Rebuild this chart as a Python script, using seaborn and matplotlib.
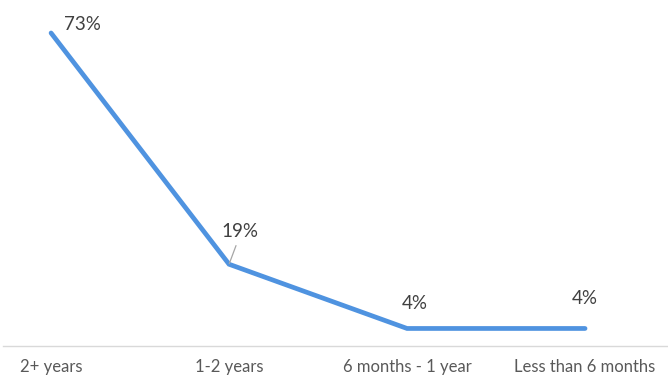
import matplotlib
matplotlib.use("Agg")
import matplotlib.pyplot as plt
import seaborn as sns
import pandas as pd

categories = ["2+ years", "1-2 years", "6 months - 1 year", "Less than 6 months"]
values = [73, 19, 4, 4]
labels = ["73%", "19%", "4%", "4%"]

# label offsets in pixels (dx, dy) from each point
label_offsets = [(31, 8), (11, 33), (8, 25), (0, 30)]

sns.set_style("white")
plt.rcParams["font.family"] = ["Lato", "DejaVu Sans"]

df = pd.DataFrame({"category": categories, "value": values})

dpi = 100
fig = plt.figure(figsize=(668 / dpi, 381 / dpi), dpi=dpi)
ax = fig.add_axes([3 / 668, 35.4 / 381, 665 / 668, 342.6 / 381])

line_color = "#4F93E0"
sns.lineplot(data=df, x="category", y="value", color=line_color, linewidth=3.4,
             sort=False, ax=ax, solid_capstyle="round", solid_joinstyle="miter")

ax.set_ylim(0, 80)
ax.set_xlim(-0.27, 3.466)

for i, (v, lab) in enumerate(zip(values, labels)):
    dx, dy = label_offsets[i]
    if i == 1:
        ax.annotate(lab, xy=(i, v), xytext=(dx, dy), textcoords="offset pixels",
                    ha="center", va="center", fontsize=13.5, color="#404040",
                    arrowprops=dict(arrowstyle="-", color="#A6A6A6", lw=0.9,
                                    shrinkA=2, shrinkB=0.5, relpos=(0.45, 0)))
    else:
        ax.annotate(lab, xy=(i, v), xytext=(dx, dy), textcoords="offset pixels",
                    ha="center", va="center", fontsize=13.5, color="#404040")

for side in ["top", "right", "left"]:
    ax.spines[side].set_visible(False)
ax.spines["bottom"].set_color("#D9D9D9")
ax.spines["bottom"].set_linewidth(1.0)
ax.set_yticks([])
ax.set_xlabel("")
ax.set_ylabel("")
ax.tick_params(axis="x", length=0, pad=10, labelsize=12, labelcolor="#595959")

fig.savefig("out.png", dpi=dpi)
